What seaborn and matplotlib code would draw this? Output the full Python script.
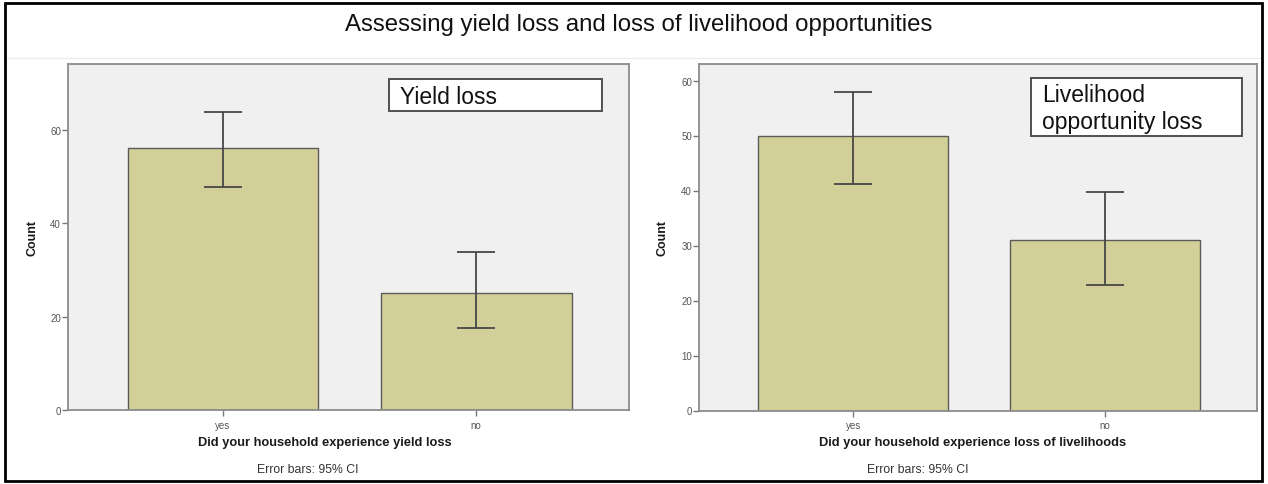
import numpy as np
import pandas as pd
import matplotlib
matplotlib.use("Agg")
import matplotlib.pyplot as plt
import seaborn as sns
from matplotlib.patches import Rectangle
from matplotlib.lines import Line2D

# Survey answers and counts, with 95% confidence limits
categories = ["yes", "no"]
yield_counts = [56, 25]
yield_ci_low = [47.7, 17.6]
yield_ci_high = [63.8, 33.8]
livelihood_counts = [50, 31]
livelihood_ci_low = [41.2, 22.9]
livelihood_ci_high = [58.0, 39.7]

sns.set_theme(style="white")
plt.rcParams["font.family"] = ["Liberation Sans", "DejaVu Sans"]

W, H = 1268, 485
fig = plt.figure(figsize=(W / 100, H / 100), dpi=100)
fig.patch.set_facecolor("white")

BAR = "#d3cf98"
SPINE = "#8c8c8c"


def fx(x):
    return x / W


def fy(y):
    return 1 - y / H


def draw_panel(left, right, top, bottom, counts, lo, hi, ymax, yticks,
               ylabel_x, xlabel, xlabel_x, note_x, box, box_text):
    ax = fig.add_axes([fx(left), fy(bottom), fx(right - left), (bottom - top) / H])
    df = pd.DataFrame({"answer": categories, "count": counts})
    sns.barplot(data=df, x="answer", y="count", order=categories, color=BAR,
                saturation=1, width=0.752, edgecolor="#5a5a5a", linewidth=1.0,
                errorbar=None, ax=ax)
    pos = np.arange(len(categories))
    c = np.array(counts, dtype=float)
    yerr = [c - np.array(lo), np.array(hi) - c]
    ax.errorbar(pos, c, yerr=yerr, fmt="none", ecolor="#474747",
                elinewidth=1.3, capsize=13.5, capthick=1.3, zorder=5)

    ax.set_facecolor("#f0f0f0")
    ax.set_xlim(-0.612, 1.603)
    ax.set_ylim(0, ymax)
    ax.set_yticks(yticks)
    for s in ax.spines.values():
        s.set_color(SPINE)
        s.set_linewidth(1.3)
    ax.tick_params(axis="both", which="both", direction="out", length=4.5,
                   width=1.0, color="#777777", labelsize=7,
                   labelcolor="#555555", left=True, bottom=True)
    ax.tick_params(axis="y", pad=0.5)
    ax.tick_params(axis="x", pad=2.5)

    ax.set_ylabel("Count", fontsize=9, fontweight="bold", color="#1a1a1a")
    ax.yaxis.set_label_coords((ylabel_x - left) / (right - left), 0.5)
    ax.set_xlabel("")

    fig.text(fx(xlabel_x), fy(443), xlabel, ha="center", va="center",
             fontsize=9.3, fontweight="bold", color="#1a1a1a")
    fig.text(fx(note_x), fy(470), "Error bars: 95% CI", ha="center",
             va="center", fontsize=8.8, color="#333333")

    bx0, by0, bx1, by1 = box
    fig.patches.append(Rectangle((fx(bx0), fy(by1)), fx(bx1 - bx0), (by1 - by0) / H,
                                 transform=fig.transFigure, facecolor="white",
                                 edgecolor="#505050", linewidth=1.4, zorder=10))
    fig.text(fx(bx0 + 11), fy((by0 + by1) / 2 + 1), box_text, ha="left",
             va="center", fontsize=16.5, color="#111111", linespacing=1.2,
             zorder=11)
    return ax


draw_panel(68, 629, 65, 411.3, yield_counts, yield_ci_low, yield_ci_high,
           74, [0, 20, 40, 60], 38, "Did your household experience yield loss",
           325, 308, (389.3, 80, 602.3, 112.3), "Yield loss")

draw_panel(699, 1257, 65, 411.5, livelihood_counts, livelihood_ci_low,
           livelihood_ci_high, 63, [0, 10, 20, 30, 40, 50, 60], 669,
           "Did your household experience loss of livelihoods",
           973, 918, (1031, 79.3, 1242.3, 137.3), "Livelihood\nopportunity loss")

# Title band and outer frame
fig.text(fx(639), fy(25), "Assessing yield loss and loss of livelihood opportunities",
         ha="center", va="center", fontsize=17.3, color="#111111")
fig.lines.append(Line2D([fx(7), fx(1260)], [fy(59), fy(59)], transform=fig.transFigure,
                        color="#ebebeb", linewidth=1.0))
fig.patches.append(Rectangle((fx(5), fy(482)), fx(1257), 478 / H,
                             transform=fig.transFigure, fill=False,
                             edgecolor="black", linewidth=2.0, zorder=20))

fig.savefig("out.png", dpi=100)
